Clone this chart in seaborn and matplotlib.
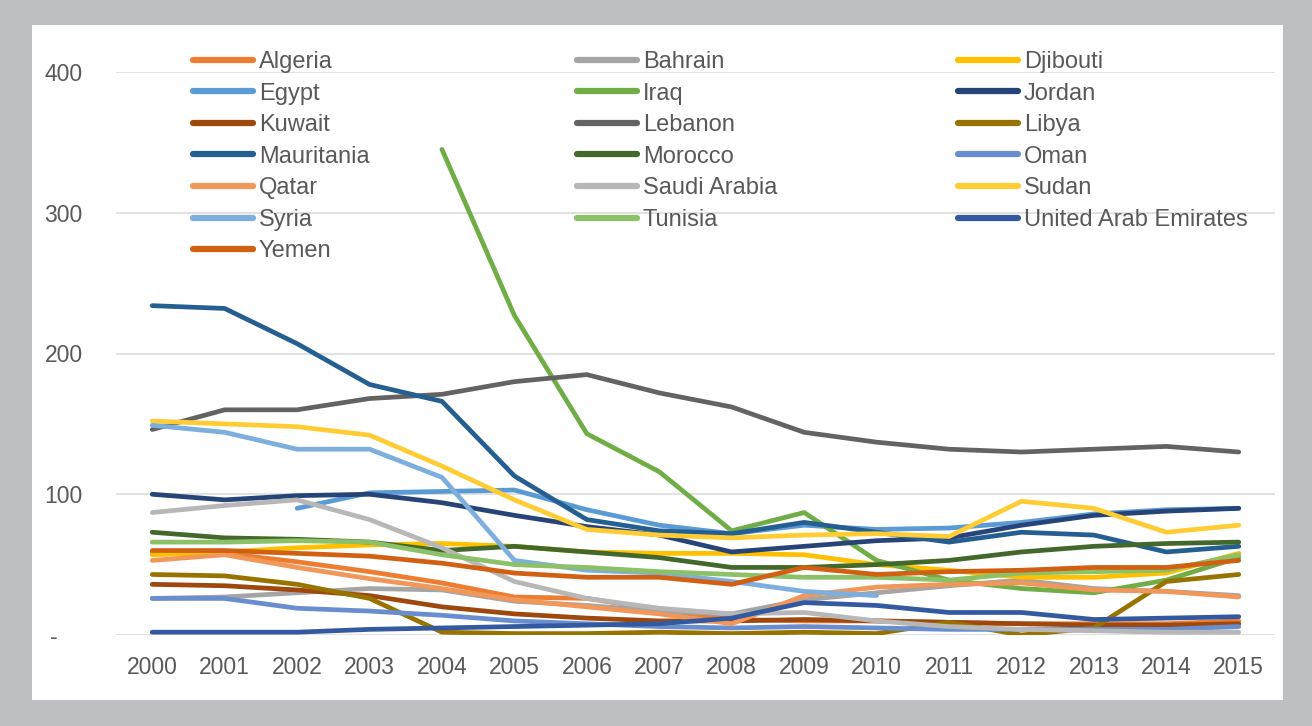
import numpy as np
import pandas as pd
import matplotlib
matplotlib.use("Agg")
import matplotlib.pyplot as plt
from matplotlib.patches import Rectangle
import seaborn as sns

nan = np.nan
years = list(range(2000, 2016))
countries = ["Algeria", "Bahrain", "Djibouti", "Egypt", "Iraq", "Jordan", "Kuwait",
             "Lebanon", "Libya", "Mauritania", "Morocco", "Oman", "Qatar",
             "Saudi Arabia", "Sudan", "Syria", "Tunisia", "United Arab Emirates", "Yemen"]

algeria = [58, 58, 52, 45, 37, 27, 26, 18, 11, 10, 10, 9, 8, 8, 8, 10]
bahrain = [26, 27, 30, 33, 32, 24, 21, 17, 15, 25, 30, 35, 39, 33, 31, 28]
djibouti = [57, 59, 62, 64, 65, 63, 59, 58, 58, 57, 50, 46, 41, 41, 44, 58]
egypt = [nan, nan, 90, 101, 102, 103, 89, 78, 72, 78, 75, 76, 80, 86, 89, 90]
iraq = [nan, nan, nan, nan, 345, 227, 143, 116, 74, 87, 53, 39, 33, 30, 39, 55]
jordan = [100, 96, 99, 100, 94, 85, 77, 71, 59, 63, 67, 69, 78, 85, 88, 90]
kuwait = [36, 35, 32, 28, 20, 15, 12, 10, 10, 11, 10, 9, 8, 7, 7, 8]
lebanon = [146, 160, 160, 168, 171, 180, 185, 172, 162, 144, 137, 132, 130, 132, 134, 130]
libya = [43, 42, 36, 26, 2, 1, 1, 2, 1, 2, 1, 9, 0, 5, 38, 43]
mauritania = [234, 232, 207, 178, 166, 113, 82, 74, 72, 80, 73, 66, 73, 71, 59, 63]
morocco = [73, 69, 68, 66, 60, 63, 59, 55, 48, 48, 50, 53, 59, 63, 65, 66]
oman = [26, 26, 19, 17, 14, 10, 8, 6, 5, 6, 5, 4, 4, 4, 4, 6]
qatar = [53, 57, 48, 40, 33, 25, 20, 15, 8, 28, 34, 36, 37, 32, 31, 27]
saudi_arabia = [87, 92, 96, 82, 62, 38, 26, 19, 15, 16, 10, 6, 4, 3, 2, 2]
sudan = [152, 150, 148, 142, 120, 96, 75, 71, 69, 71, 72, 70, 95, 90, 73, 78]
syria = [149, 144, 132, 132, 112, 53, 46, 44, 38, 31, 28, nan, nan, nan, nan, nan]
tunisia = [66, 66, 67, 66, 57, 50, 48, 45, 43, 41, 41, 39, 44, 45, 46, 57]
uae = [2, 2, 2, 4, 5, 6, 7, 8, 12, 23, 21, 16, 16, 11, 12, 13]
yemen = [60, 60, 58, 56, 51, 44, 41, 41, 36, 48, 43, 45, 46, 48, 48, 53]

series = [algeria, bahrain, djibouti, egypt, iraq, jordan, kuwait, lebanon, libya,
          mauritania, morocco, oman, qatar, saudi_arabia, sudan, syria, tunisia, uae, yemen]

colors = ["#ED7D31", "#A5A5A5", "#FFC000", "#5B9BD5", "#70AD47", "#264478", "#9E480E",
          "#636363", "#997300", "#255E91", "#43682B", "#698ED0", "#F1975A", "#B7B7B7",
          "#FFCD33", "#7CAFDD", "#8CC168", "#335AA1", "#D26012"]

y_ticks = [0, 100, 200, 300, 400]
y_tick_labels = ["-    ", "100", "200", "300", "400"]

rows = []
for c, vals in zip(countries, series):
    for yr, v in zip(years, vals):
        rows.append({"year": yr, "country": c, "value": v})
df = pd.DataFrame(rows).dropna()

sns.set_theme(style="white")
plt.rcParams["font.family"] = ["Liberation Sans", "DejaVu Sans"]

W, H = 1312, 726
fig = plt.figure(figsize=(W / 100, H / 100), dpi=100)
fig.patch.set_facecolor("#BEBFC2")
fig.patches.append(Rectangle((32 / W, 1 - 700 / H), (1283 - 32) / W, (700 - 25) / H,
                             transform=fig.transFigure, facecolor="white",
                             edgecolor="none", zorder=-5))

ax = fig.add_axes([116 / W, 1 - 635 / H, (1275 - 116) / W, (635 - 72) / H])
ax.set_facecolor("none")
ax.set_zorder(1)

palette = dict(zip(countries, colors))
sns.lineplot(data=df, x="year", y="value", hue="country", hue_order=countries,
             palette=palette, estimator=None, sort=True, linewidth=3.4,
             legend=False, ax=ax)
for ln in ax.lines:
    ln.set_solid_joinstyle("round")
    ln.set_solid_capstyle("round")

ax.set_xlim(1999.5, 2015.5)
ax.set_ylim(0, 400)
ax.set_xticks(years)
ax.set_xticklabels([str(y) for y in years])
ax.set_yticks(y_ticks)
ax.set_yticklabels(y_tick_labels)
ax.tick_params(axis="both", length=0, labelsize=16.5, colors="#595959")
ax.tick_params(axis="y", pad=24)
ax.tick_params(axis="x", pad=15)
ax.yaxis.grid(True, color="#D9D9D9", linewidth=1.1)
ax.xaxis.grid(False)
for s in ax.spines.values():
    s.set_visible(False)
ax.set_xlabel("")
ax.set_ylabel("")

# legend: three columns, filled row-wise
handles = list(ax.lines)
col_x = [193, 577, 958]
for ci in range(3):
    idx = list(range(ci, len(countries), 3))
    leg = fig.legend([handles[i] for i in idx], [countries[i] for i in idx],
                     loc="upper left", bbox_to_anchor=(col_x[ci] / W, 1 - 51 / H),
                     bbox_transform=fig.transFigure, frameon=False, fontsize=17,
                     handlelength=2.54, handletextpad=0.25, labelspacing=0.405,
                     borderpad=0, borderaxespad=0, labelcolor="#595959")
    leg.set_zorder(5)
    for lh in leg.get_lines():
        lh.set_linewidth(4.5)
        lh.set_solid_capstyle("round")

fig.savefig("out.png", dpi=100, facecolor=fig.get_facecolor())
